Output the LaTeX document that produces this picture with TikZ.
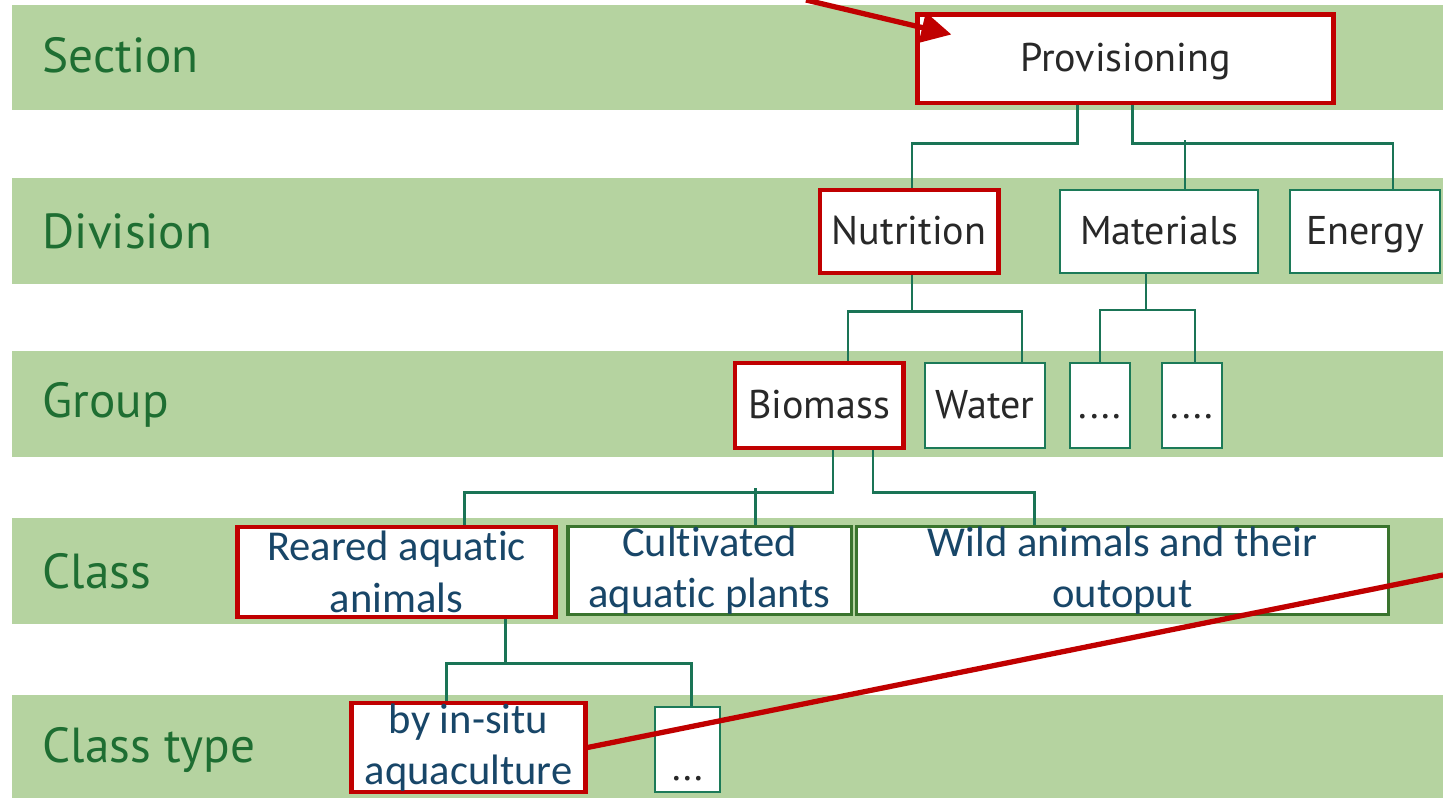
\documentclass[tikz,border=0pt]{standalone}
\usepackage{fontspec}
\setmainfont{PT Sans}
\newfontfamily\calibfont[Ligatures=NoCommon]{Carlito}
\usetikzlibrary{arrows.meta}

\definecolor{bandgreen}{RGB}{181,211,160}
\definecolor{labelgreen}{RGB}{30,110,50}
\definecolor{boxtext}{RGB}{40,40,40}
\definecolor{boxgreen}{RGB}{28,122,88}
\definecolor{classgreen}{RGB}{58,116,46}
\definecolor{classblue}{RGB}{24,70,104}
\definecolor{conngreen}{RGB}{26,116,86}
\definecolor{markred}{RGB}{192,0,0}

\begin{document}
\begin{tikzpicture}[x=0.01cm,y=-0.01cm,
    band/.style={fill=bandgreen},
    rowlabel/.style={anchor=base west,inner sep=0pt,text=labelgreen,font=\fontsize{14}{16}\selectfont},
    box/.style={draw=boxgreen,line width=0.7pt,fill=white,inner sep=0pt,text=boxtext,
        text height=1.55ex,text depth=0.1ex,font=\fontsize{11.4}{13}\selectfont},
    redbox/.style={box,draw=markred,line width=1.4pt},
    classbox/.style={box,draw=classgreen,line width=0.9pt,text=classblue,align=center,
        text height={},text depth={},font=\calibfont\fontsize{12.1}{14.6}\selectfont},
    redclass/.style={classbox,draw=markred,line width=1.4pt},
    conn/.style={draw=conngreen,line width=0.7pt},
    pointer/.style={draw=markred,line width=1.5pt}]

    \useasboundingbox (0,0) rectangle (1443,798);

    % green bands
    \fill[band] (12,5) rectangle (1443,110);
    \fill[band] (12,178) rectangle (1443,284);
    \fill[band] (12,351) rectangle (1443,457);
    \fill[band] (12,518) rectangle (1443,624);
    \fill[band] (12,695) rectangle (1443,798);

    \node[rowlabel] (lsection) at (42,73) {Section};
    \node[rowlabel] (ldivision) at (42,249) {Division};
    \node[rowlabel] (lgroup) at (42,418) {Group};
    \node[rowlabel] (lclass) at (42,589) {Class};
    \node[rowlabel] (lclasstype) at (42,762) {Class type};

    % boxes
    \node[redbox,minimum width=4.15cm,minimum height=0.88cm] (prov) at (1125.5,59) {Provisioning};
    \node[redbox,minimum width=1.78cm,minimum height=0.83cm] (nutr) at (909,231.5) {Nutrition};
    \node[box,minimum width=1.98cm,minimum height=0.83cm] (mater) at (1159,231.5) {Materials};
    \node[box,minimum width=1.50cm,minimum height=0.83cm] (energy) at (1365,231.5) {Energy};
    \node[redbox,minimum width=1.68cm,minimum height=0.85cm] (biomass) at (819,405.5) {Biomass};
    \node[box,minimum width=1.20cm,minimum height=0.85cm] (water) at (985,405.5) {Water};
    \node[box,minimum width=0.60cm,minimum height=0.85cm] (dotsa) at (1100,405.5) {....};
    \node[box,minimum width=0.60cm,minimum height=0.85cm] (dotsb) at (1192,405.5) {....};
    \node[redclass,minimum width=3.17cm,minimum height=0.90cm] (reared) at (396.5,572) {Reared aquatic\\animals};
    \node[classbox,minimum width=2.83cm,minimum height=0.87cm] (cultiv) at (709.5,570.5) {Cultivated\\aquatic plants};
    \node[classbox,minimum width=5.31cm,minimum height=0.87cm] (wild) at (1122.5,570.5) {Wild animals and their\\outoput};
    \node[redclass,minimum width=2.33cm,minimum height=0.89cm] (insitu) at (468.5,747.5) {by in-situ\\aquaculture};
    \node[box,minimum width=0.65cm,minimum height=0.85cm] (dotsc) at (687.5,749.5) {\raisebox{-0.18cm}{...}};

    % tree connectors
    \draw[conn] ([shift={(-48,0)}]prov.south) -- ++(0,38) -| ([shift={(3,0)}]nutr.north);
    \draw[conn] ([shift={(7,0)}]prov.south) -- ++(0,38) -| ([shift={(28,0)}]energy.north);
    \draw[conn] ([shift={(26,0)}]mater.north) -- ++(0,-49);
    \draw[conn] ([shift={(3,0)}]nutr.south) -- ++(0,36) -| ([shift={(29,0)}]biomass.north);
    \draw[conn] ([shift={(3,0)}]nutr.south) ++(0,36) -| ([shift={(37,0)}]water.north);
    \draw[conn] ([shift={(-13,0)}]mater.south) -- ++(0,36) -| (dotsa.north);
    \draw[conn] ([shift={(-13,0)}]mater.south) ++(0,36) -| ([shift={(3,0)}]dotsb.north);
    \draw[conn] ([shift={(14,0)}]biomass.south) -- ++(0,42) -| ([shift={(68,0)}]reared.north);
    \draw[conn] ([shift={(54,0)}]biomass.south) -- ++(0,42) -| ([shift={(-88,0)}]wild.north);
    \draw[conn] ([shift={(46,0)}]cultiv.north) -- ++(0,-37);
    \draw[conn] ([shift={(109,0)}]reared.south) -- ++(0,44) -| ([shift={(-22,0)}]insitu.north);
    \draw[conn] ([shift={(109,0)}]reared.south) ++(0,44) -| ([shift={(4,0)}]dotsc.north);

    % red pointers
    \coordinate (ptrstart) at (806,0);
    \coordinate (ptrend) at (1443,575);
    \draw[pointer,-{Triangle[length=0.3cm,width=0.3cm]}] (ptrstart) -- ([shift={(36,22)}]prov.north west);
    \draw[pointer] (insitu.east) -- (ptrend);

\end{tikzpicture}
\end{document}
